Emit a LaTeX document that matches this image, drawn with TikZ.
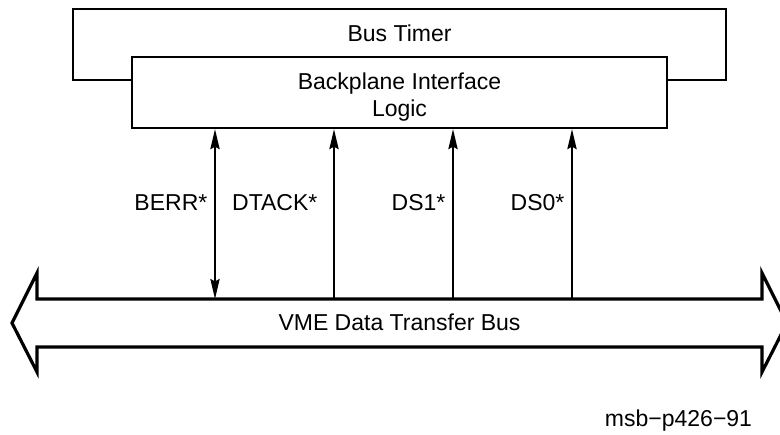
\documentclass[tikz,border=0pt]{standalone}
\usepackage{fontspec}
\setmainfont{Liberation Sans}
\usepackage{tikz}
\usetikzlibrary{arrows.meta,positioning,calc}

\begin{document}
\begin{tikzpicture}[x=0.5pt, y=-0.5pt, >={Stealth[length=10pt,width=4.6pt,inset=1.2pt]},
	boxline/.style={draw=black,line width=1.1pt},
	busline/.style={draw=black,line width=1.6pt,line join=miter},
	sig/.style={font=\fontsize{11.5}{13.5}\selectfont,text=black},
	lbl/.style={font=\fontsize{11.5}{13.5}\selectfont,align=center}]
	\useasboundingbox (0,0) rectangle (780,434);
	% bus timer sits behind the interface box
	\draw[boxline] (73,9) rectangle (726,80);
	\node[lbl] (timer) at (399.5,33) {Bus Timer};
	\node[boxline,fill=white,minimum width=267.5pt,minimum height=35.5pt] (bpl) at (399.5,92.5) {};
	\node[lbl] (bpltxt) at (399.5,97) {Backplane Interface\\Logic};
	% data transfer bus
	\draw[busline] (37,299) -- (762,299) -- (762,273) -- (787,323) -- (762,372) -- (762,347)
		-- (37,347) -- (37,372) -- (12,323) -- (37,273) -- cycle;
	\node[lbl] (vme) at (399.5,322) {VME Data Transfer Bus};
	\coordinate (berr) at (215,299);
	\coordinate (dtack) at (334,299);
	\coordinate (dsa) at (453,299);
	\coordinate (dsb) at (572,299);
	\draw[line width=1pt,<->] (berr) -- node[sig,left,pos=.57] (lberr) {BERR*} (berr |- bpl.south);
	\draw[line width=1pt,->] (dtack) -- node[sig,left,pos=.57,xshift=-4.5pt] (ldtack) {DTACK*} (dtack |- bpl.south);
	\draw[line width=1pt,->] (dsa) -- node[sig,left,pos=.57] (ldsa) {DS1*} (dsa |- bpl.south);
	\draw[line width=1pt,->] (dsb) -- node[sig,left,pos=.57] (ldsb) {DS0*} (dsb |- bpl.south);
	\node[lbl] (tag) at (678.5,421) {msb−p426−91};
\end{tikzpicture}
\end{document}
